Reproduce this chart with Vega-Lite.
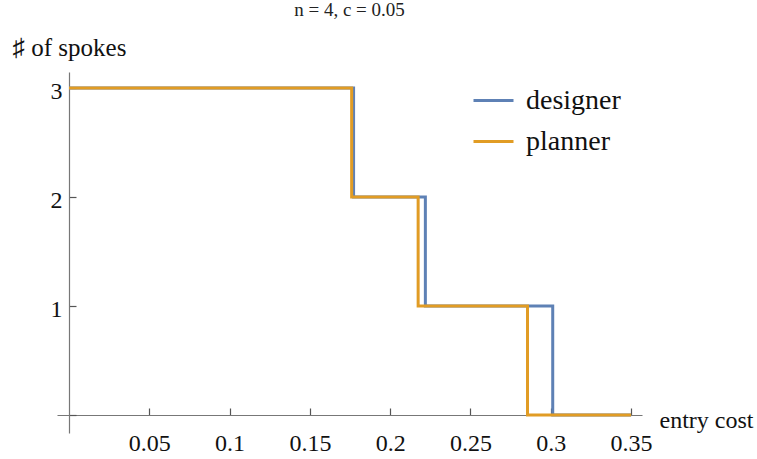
{
  "$schema": "https://vega.github.io/schema/vega-lite/v6.json",
  "width": 585,
  "height": 361,
  "autosize": {"type": "none"},
  "padding": {"left": 57, "top": 72, "right": 115, "bottom": 26},
  "background": "white",
  "title": {
    "text": "n = 4, c = 0.05",
    "font": "Liberation Serif",
    "fontSize": 19,
    "fontWeight": "normal",
    "color": "#222",
    "anchor": "middle",
    "frame": "group",
    "offset": 15
  },
  "data": {
    "values": [
      {"cost": 0, "spokes": 3, "who": "designer"},
      {"cost": 0.1772, "spokes": 2, "who": "designer"},
      {"cost": 0.2219, "spokes": 1, "who": "designer"},
      {"cost": 0.3012, "spokes": 0, "who": "designer"},
      {"cost": 0.35, "spokes": 0, "who": "designer"},
      {"cost": 0, "spokes": 3, "who": "planner"},
      {"cost": 0.1760, "spokes": 2, "who": "planner"},
      {"cost": 0.2174, "spokes": 1, "who": "planner"},
      {"cost": 0.2855, "spokes": 0, "who": "planner"},
      {"cost": 0.35, "spokes": 0, "who": "planner"}
    ]
  },
  "mark": {"type": "line", "interpolate": "step-after", "strokeWidth": 3, "strokeJoin": "miter", "strokeCap": "butt", "clip": false},
  "encoding": {
    "x": {
      "field": "cost",
      "type": "quantitative",
      "scale": {"domain": [-0.00747, 0.35679], "nice": false, "zero": false},
      "axis": {
        "orient": "bottom",
        "offset": -18,
        "values": [0.05, 0.1, 0.15, 0.2, 0.25, 0.3, 0.35],
        "format": "~g",
        "grid": false,
        "tickSize": -7,
        "labelPadding": 23,
        "labelFontSize": 24,
        "title": "entry cost",
        "titleAngle": 0,
        "titleAlign": "left",
        "titleBaseline": "alphabetic",
        "titleX": 602,
        "titleY": 12,
        "titleFontSize": 24
      }
    },
    "y": {
      "field": "spokes",
      "type": "quantitative",
      "scale": {"domain": [-0.1651, 3.1468], "nice": false, "zero": false},
      "axis": {
        "orient": "left",
        "offset": -12,
        "values": [0, 1, 2, 3],
        "labelExpr": "datum.value == 0 ? '' : datum.label",
        "grid": false,
        "tickSize": -7,
        "labelPadding": 14,
        "labelOffset": 3,
        "labelFontSize": 24,
        "title": "♯ of spokes",
        "titleAngle": 0,
        "titleAlign": "left",
        "titleBaseline": "alphabetic",
        "titleX": -57,
        "titleY": -17,
        "titleFontSize": 25
      }
    },
    "color": {
      "field": "who",
      "type": "nominal",
      "scale": {"domain": ["designer", "planner"], "range": ["#5E81B5", "#E19C24"]},
      "legend": {
        "title": null,
        "orient": "none",
        "legendX": 415,
        "legendY": 7,
        "symbolType": "stroke",
        "symbolSize": 1600,
        "symbolStrokeWidth": 3,
        "labelFontSize": 28,
        "labelFont": "Liberation Serif",
        "labelColor": "#111",
        "labelOffset": 11,
        "rowPadding": 5,
        "padding": 0
      }
    }
  },
  "config": {
    "view": {"stroke": null},
    "font": "Liberation Serif",
    "axis": {
      "domainColor": "#777",
      "domainWidth": 1.2,
      "tickColor": "#555",
      "tickWidth": 1.2,
      "labelFont": "Liberation Serif",
      "labelColor": "#111",
      "titleFont": "Liberation Serif",
      "titleFontWeight": "normal",
      "titleColor": "#111"
    }
  }
}
